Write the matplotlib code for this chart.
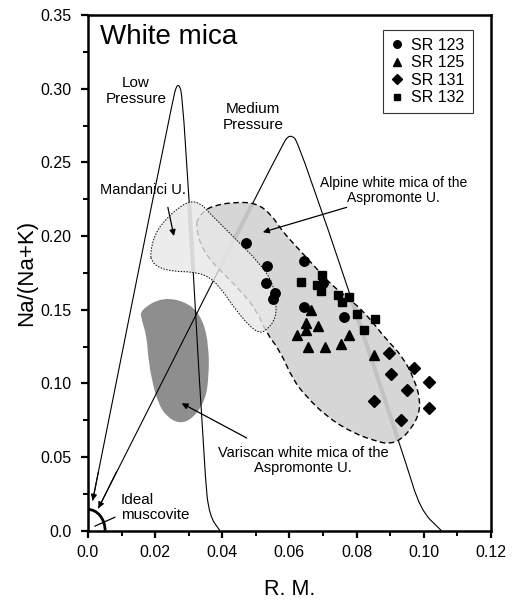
import numpy as np
import matplotlib
matplotlib.use("Agg")
import matplotlib.pyplot as plt
from matplotlib.path import Path
from matplotlib.patches import PathPatch, Arc

plt.rcParams['font.family'] = ['Liberation Sans', 'DejaVu Sans']

# ---------------- data ----------------
sr123_x = [0.0470, 0.0534, 0.0644, 0.0529, 0.0557, 0.0552, 0.0643, 0.0700, 0.0763]
sr123_y = [0.1955, 0.1797, 0.1833, 0.1680, 0.1615, 0.1570, 0.1520, 0.1679, 0.1452]

sr125_x = [0.0665, 0.0651, 0.0685, 0.0649, 0.0623, 0.0656, 0.0706, 0.0754, 0.0777, 0.0852]
sr125_y = [0.1500, 0.1410, 0.1390, 0.1360, 0.1330, 0.1245, 0.1245, 0.1270, 0.1330, 0.1192]

sr131_x = [0.0897, 0.0971, 0.0904, 0.1016, 0.0951, 0.0852, 0.1016, 0.0932]
sr131_y = [0.1208, 0.1102, 0.1061, 0.1011, 0.0955, 0.0882, 0.0831, 0.0751]

sr132_x = [0.0636, 0.0698, 0.0682, 0.0695, 0.0745, 0.0758, 0.0778, 0.0801, 0.0855, 0.0822]
sr132_y = [0.1690, 0.1735, 0.1668, 0.1625, 0.1600, 0.1554, 0.1584, 0.1470, 0.1437, 0.1362]

series_labels = ['SR 123', 'SR 125', 'SR 131', 'SR 132']

# pressure curves (control points)
low_x = [0.0014, 0.0250, 0.0268, 0.0285, 0.0348, 0.0362, 0.0393]
low_y = [0.0204, 0.2900, 0.3060, 0.2920, 0.0360, 0.0100, 0.0000]
med_x = [0.0031, 0.0578, 0.0602, 0.0630, 0.0945, 0.0990, 0.1053]
med_y = [0.0152, 0.2620, 0.2695, 0.2630, 0.0480, 0.0140, 0.0000]

# fields (outline control points)
mand_x = [0.0185, 0.0200, 0.0234, 0.0274, 0.0309, 0.0338, 0.0353, 0.0433, 0.0512, 0.0552,
          0.0562, 0.0557, 0.0532, 0.0512, 0.0482, 0.0433, 0.0393, 0.0353, 0.0304, 0.0264,
          0.0214, 0.0190]
mand_y = [0.1883, 0.2020, 0.2120, 0.2200, 0.2240, 0.2215, 0.2177, 0.1995, 0.1815, 0.1679,
          0.1520, 0.1430, 0.1362, 0.1340, 0.1385, 0.1520, 0.1656, 0.1735, 0.1758, 0.1758,
          0.1780, 0.1826]

alp_x = [0.0325, 0.0345, 0.0373, 0.0433, 0.0502, 0.0547, 0.0576, 0.0621, 0.0676, 0.0730,
         0.0790, 0.0839, 0.0884, 0.0938, 0.0973, 0.0990, 0.0985, 0.0965, 0.0934, 0.0900,
         0.0869, 0.0790, 0.0711, 0.0651, 0.0611, 0.0571, 0.0532, 0.0502, 0.0452, 0.0403,
         0.0363, 0.0333, 0.0323]
alp_y = [0.2110, 0.2170, 0.2205, 0.2230, 0.2225, 0.2143, 0.2041, 0.1927, 0.1792, 0.1656,
         0.1554, 0.1442, 0.1310, 0.1181, 0.1023, 0.0887, 0.0785, 0.0700, 0.0620, 0.0590,
         0.0600, 0.0661, 0.0774, 0.0909, 0.1023, 0.1226, 0.1340, 0.1498, 0.1634, 0.1747,
         0.1838, 0.1950, 0.2063]

var_x = [0.0155, 0.0224, 0.0304, 0.0343, 0.0360, 0.0360, 0.0350, 0.0313, 0.0274, 0.0234,
         0.0209, 0.0190, 0.0179, 0.0175, 0.0160]
var_y = [0.1497, 0.1588, 0.1543, 0.1430, 0.1249, 0.1045, 0.0887, 0.0763, 0.0725, 0.0774,
         0.0865, 0.1023, 0.1181, 0.1317, 0.1430]

x_ticks = [0.0, 0.02, 0.04, 0.06, 0.08, 0.10, 0.12]
x_tick_labels = ['0.0', '0.02', '0.04', '0.06', '0.08', '0.10', '0.12']
y_ticks = [0.0, 0.05, 0.10, 0.15, 0.20, 0.25, 0.30, 0.35]
y_tick_labels = ['0.0', '0.05', '0.10', '0.15', '0.20', '0.25', '0.30', '0.35']


def closed_smooth_path(xs, ys):
    pts = np.column_stack([xs, ys])
    n = len(pts)
    mids = (pts + np.roll(pts, -1, axis=0)) / 2.0
    verts = [mids[-1]]
    codes = [Path.MOVETO]
    for i in range(n):
        verts += [pts[i], mids[i]]
        codes += [Path.CURVE3, Path.CURVE3]
    verts.append(mids[-1])
    codes.append(Path.CLOSEPOLY)
    return Path(np.array(verts), codes)


def open_smooth_path(xs, ys):
    pts = np.column_stack([xs, ys])
    n = len(pts)
    mids = (pts[:-1] + pts[1:]) / 2.0
    verts = [pts[0], mids[0]]
    codes = [Path.MOVETO, Path.LINETO]
    for i in range(1, n - 1):
        verts += [pts[i], mids[i]]
        codes += [Path.CURVE3, Path.CURVE3]
    verts.append(pts[-1])
    codes.append(Path.LINETO)
    return Path(np.array(verts), codes)


fig = plt.figure(figsize=(5.3, 6.02), dpi=100)
ax = fig.add_axes([0.166, 0.1185, 0.760, 0.8565])
ax.set_xlim(0, 0.12)
ax.set_ylim(0, 0.35)

# Variscan field (under lines)
var_path = closed_smooth_path(var_x, var_y)
ax.add_patch(PathPatch(var_path, facecolor='#8e8e8e', edgecolor='none', zorder=0.5))

# pressure curves
low_path = open_smooth_path(low_x, low_y)
med_path = open_smooth_path(med_x, med_y)
for p in (low_path, med_path):
    ax.add_patch(PathPatch(p, facecolor='none', edgecolor='black', lw=0.8, zorder=1))

# arrowheads at the ends of the left branches
ax.annotate('', xy=(low_x[0], low_y[0]), xytext=(0.0031, 0.040),
            arrowprops=dict(arrowstyle='-|>', color='black', lw=0.8, mutation_scale=9,
                            shrinkA=0, shrinkB=0), zorder=1)
ax.annotate('', xy=(med_x[0], med_y[0]), xytext=(0.0085, 0.040),
            arrowprops=dict(arrowstyle='-|>', color='black', lw=0.8, mutation_scale=9,
                            shrinkA=0, shrinkB=0), zorder=1)

# Alpine field
alp_path = closed_smooth_path(alp_x, alp_y)
alp_clip = PathPatch(alp_path, transform=ax.transData, facecolor='none', edgecolor='none')
ax.add_patch(alp_clip)
for p in (low_path, med_path):
    s = PathPatch(p, facecolor='none', edgecolor='#7a7a7a', lw=3.0, zorder=1.5)
    ax.add_patch(s)
    s.set_clip_path(alp_clip)
ax.add_patch(PathPatch(alp_path, facecolor='#cfcfcf', alpha=0.85, edgecolor='none', zorder=2))
ax.add_patch(PathPatch(alp_path, facecolor='none', edgecolor='black', lw=1.0,
                       linestyle=(0, (4, 2.5)), zorder=2.1))

# Mandanici field
mand_path = closed_smooth_path(mand_x, mand_y)
mand_clip = PathPatch(mand_path, transform=ax.transData, facecolor='none', edgecolor='none')
ax.add_patch(mand_clip)
s = PathPatch(low_path, facecolor='none', edgecolor='#9a9a9a', lw=3.0, zorder=2.2)
ax.add_patch(s)
s.set_clip_path(mand_clip)
ax.add_patch(PathPatch(mand_path, facecolor='#e8e8e8', alpha=0.8, edgecolor='none', zorder=2.5))
ax.add_patch(PathPatch(mand_path, facecolor='none', edgecolor='black', lw=0.7,
                       linestyle=(0, (1.5, 1.5)), zorder=2.6))

# data points
ms = 6.8
ax.plot(sr123_x, sr123_y, 'o', color='black', ms=ms, ls='none', label=series_labels[0], zorder=5)
ax.plot(sr125_x, sr125_y, '^', color='black', ms=ms, ls='none', label=series_labels[1], zorder=5)
ax.plot(sr131_x, sr131_y, 'D', color='black', ms=5.8, ls='none', label=series_labels[2], zorder=5)
ax.plot(sr132_x, sr132_y, 's', color='black', ms=6.2, ls='none', label=series_labels[3], zorder=5)

leg = ax.legend(loc='upper right', bbox_to_anchor=(0.955, 0.971), borderaxespad=0,
                fontsize=11.5, handlelength=0.8, handletextpad=0.5, labelspacing=0.15,
                borderpad=0.5, fancybox=False, frameon=True, markerscale=0.8)
leg.get_frame().set_edgecolor('black')
leg.get_frame().set_linewidth(0.8)

# ideal muscovite arc
ax.add_patch(Arc((0, 0), 2 * 0.0051, 2 * 0.0144, theta1=0, theta2=90, lw=2.0,
                 color='black', zorder=4, clip_on=False))
ax.plot([0.0021, 0.0080], [0.0031, 0.0091], color='black', lw=0.9, zorder=4)

# texts
ax.text(0.0036, 0.335, 'White mica', fontsize=20, ha='left', va='center')
ax.text(0.0143, 0.2983, 'Low\nPressure', fontsize=11, ha='center', va='center',
        linespacing=1.15)
ax.text(0.0491, 0.2807, 'Medium\nPressure', fontsize=11, ha='center', va='center',
        linespacing=1.15)
ax.text(0.0164, 0.2311, 'Mandanici U.', fontsize=10.5, ha='center', va='center')
ax.text(0.0911, 0.2311, 'Alpine white mica of the\nAspromonte U.', fontsize=10,
        ha='center', va='center', linespacing=1.1)
ax.text(0.0641, 0.0476, 'Variscan white mica of the\nAspromonte U.', fontsize=10.5,
        ha='center', va='center', linespacing=1.1)
ax.text(0.0098, 0.0157, 'Ideal\nmuscovite', fontsize=11, ha='left', va='center',
        linespacing=1.05)

arrow_kw = dict(arrowstyle='-|>', color='black', lw=0.9, mutation_scale=9, shrinkA=0, shrinkB=0)
ax.annotate('', xy=(0.0256, 0.2000), xytext=(0.0238, 0.2195), arrowprops=arrow_kw, zorder=6)
ax.annotate('', xy=(0.0521, 0.2026), xytext=(0.0771, 0.2195), arrowprops=arrow_kw, zorder=6)
ax.annotate('', xy=(0.0279, 0.0865), xytext=(0.0473, 0.0629), arrowprops=arrow_kw, zorder=6)

# axes styling
ax.set_xticks(x_ticks)
ax.set_xticklabels(x_tick_labels)
ax.set_yticks(y_ticks)
ax.set_yticklabels(y_tick_labels)
ax.set_xticks(np.arange(0.01, 0.12, 0.02), minor=True)
ax.set_yticks(np.arange(0.025, 0.35, 0.05), minor=True)
ax.tick_params(axis='both', which='major', direction='out', length=5, width=1.6,
               labelsize=11.5, pad=5)
ax.tick_params(axis='y', which='major', pad=7)
ax.tick_params(axis='both', which='minor', direction='out', length=3.5, width=1.4)
for sp in ax.spines.values():
    sp.set_linewidth(1.8)

ax.set_xlabel('R. M.', fontsize=15.5, labelpad=14)
ax.set_ylabel('Na/(Na+K)', fontsize=16, labelpad=2)

fig.savefig('out.png', dpi=100)
